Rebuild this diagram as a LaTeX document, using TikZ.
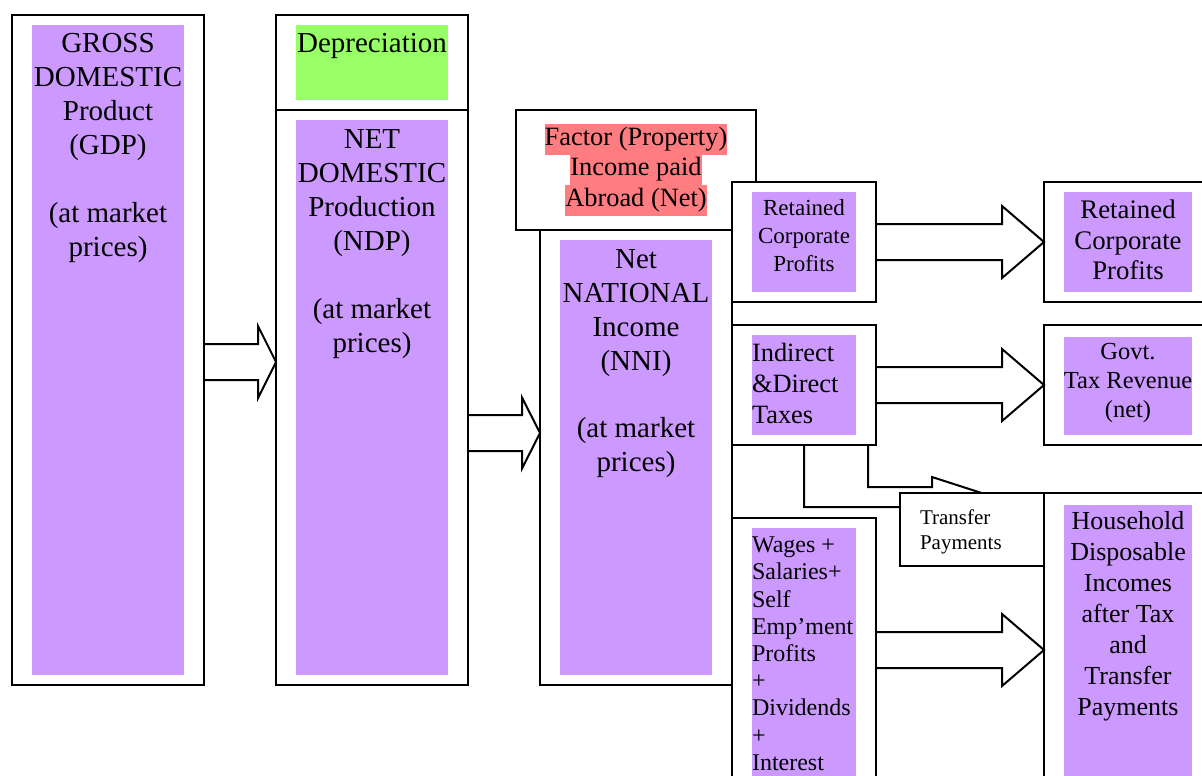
\documentclass[tikz,border=0pt]{standalone}
\usepackage{fontspec}
\setmainfont{Liberation Serif}
\usetikzlibrary{calc}

\definecolor{lilac}{HTML}{CC99FF}
\definecolor{leaf}{HTML}{99FF66}
\definecolor{rose}{HTML}{FF7C80}

\newcommand\hilite[1]{{\setlength\fboxsep{0pt}\colorbox{rose}{\strut #1}}}

\begin{document}
\begin{tikzpicture}[
  x=0.5pt, y=-0.5pt,
  every node/.style = {inner sep=0pt, outer sep=0pt, anchor=north west},
  boxframe/.style = {draw, line width=1pt, fill=white},
  panel/.style = {fill=#1},
  caption/.style = {anchor=north, align=center, inner ysep=#1},
  big/.style = {font=\fontsize{14.5}{17}\selectfont},
  fat/.style args = {#1/#2/#3}{line width=1pt, to path={
      let \p1 = (\tikztostart), \p2 = (\tikztotarget) in
      (\x1,\y1+#1) -- (\x2-#3,\y1+#1) -- (\x2-#3,\y1+#2) -- (\x2,\y1)
      -- (\x2-#3,\y1-#2) -- (\x2-#3,\y1-#1) -- (\x1,\y1-#1)}}
]
  \clip (0,0) rectangle (1202,775);

  % gross domestic product
  \node[boxframe, minimum width=96pt, minimum height=335pt] (gdp) at (12,15) {};
  \node[panel=lilac, minimum width=76pt, minimum height=325pt] (gdp fill) at (32,25) {};
  \node[caption=4pt, big] (gdp text) at (gdp fill.north)
    {GROSS\\DOMESTIC\\Product\\(GDP)\\[17pt](at market\\prices)};

  % depreciation and net domestic product
  \node[boxframe, minimum width=96pt, minimum height=47.5pt] (dep) at (276,15) {};
  \node[panel=leaf, minimum width=76pt, minimum height=37.5pt] (dep fill) at (296,25) {};
  \node[caption=4pt, big] (dep text) at (dep fill.north) {Depreciation};
  \node[boxframe, minimum width=96pt, minimum height=287.5pt] (ndp) at (276,110) {};
  \node[panel=lilac, minimum width=76pt, minimum height=277.5pt] (ndp fill) at (296,120) {};
  \node[caption=5pt, big] (ndp text) at (ndp fill.north)
    {NET\\DOMESTIC\\Production\\(NDP)\\[17pt](at market\\prices)};

  % factor income and net national income
  \node[boxframe, minimum width=120pt, minimum height=60pt] (factor) at (516,110) {};
  \node[caption=7pt, font=\fontsize{13.2}{15.25}\selectfont] (factor text) at (factor.north)
    {\hilite{Factor (Property)}\\\hilite{Income paid}\\\hilite{Abroad (Net)}};
  \node[boxframe, minimum width=96pt, minimum height=227.5pt] (nni) at (540,230) {};
  \node[panel=lilac, minimum width=76pt, minimum height=217.5pt] (nni fill) at (560,240) {};
  \node[caption=5pt, big] (nni text) at (nni fill.north)
    {Net\\NATIONAL\\Income\\(NNI)\\[16.5pt](at market\\prices)};

  % split of the national income
  \node[boxframe, minimum width=72pt, minimum height=60pt] (retain) at (732,182) {};
  \node[panel=lilac, minimum width=52pt, minimum height=50pt] (retain fill) at (752,192) {};
  \node[caption=4pt, font=\fontsize{11.5}{14}\selectfont] (retain text) at (retain fill.north)
    {Retained\\Corporate\\Profits};
  \node[boxframe, minimum width=72pt, minimum height=60pt] (tax) at (732,325) {};
  \node[panel=lilac, minimum width=52pt, minimum height=50pt] (tax fill) at (752,335) {};
  \node[inner ysep=4pt, align=left, font=\fontsize{13.2}{15.5}\selectfont] (tax text) at (tax fill.north west)
    {Indirect\\\&Direct\\Taxes};
  \node[boxframe, minimum width=72pt, minimum height=132pt] (wages) at (732,518) {};
  \node[panel=lilac, minimum width=52pt, minimum height=127pt] (wages fill) at (752,528) {};
  \node[inner ysep=4.5pt, align=left, font=\fontsize{12}{13.6}\selectfont] (wages text) at (wages fill.north west)
    {Wages +\\Salaries+\\Self\\Emp’ment\\Profits\\+\\Dividends\\+\\Interest};

  % where it ends up
  \node[boxframe, minimum width=84pt, minimum height=60pt] (kept) at (1044,182) {};
  \node[panel=lilac, minimum width=64pt, minimum height=50pt] (kept fill) at (1064,192) {};
  \node[caption=4pt, font=\fontsize{13.4}{15.25}\selectfont] (kept text) at (kept fill.north)
    {Retained\\Corporate\\Profits};
  \node[boxframe, minimum width=84pt, minimum height=60pt] (revenue) at (1044,325) {};
  \node[panel=lilac, minimum width=64pt, minimum height=49pt] (revenue fill) at (1064,337) {};
  \node[caption=3pt, font=\fontsize{12.25}{14.5}\selectfont] (revenue text) at (revenue fill.north)
    {Govt.\\Tax Revenue\\(net)};
  \node[boxframe, minimum width=84pt, minimum height=157pt] (household) at (1044,493) {};
  \node[panel=lilac, minimum width=64pt, minimum height=140pt] (household fill) at (1064,505) {};
  \node[caption=3pt, font=\fontsize{13}{15.5}\selectfont] (household text) at (household fill.north)
    {Household\\Disposable\\Incomes\\after Tax\\and\\Transfer\\Payments};

  % block arrows
  \draw[fat=9pt/18pt/9pt] ([yshift=-6pt]gdp.east) to (ndp.west);
  \draw[fat=9pt/17.75pt/9pt] ([yshift=-17.75pt]ndp.east) to (nni.west);
  \draw[fat=9pt/18pt/21pt] (retain.east) to (kept.west);
  \draw[fat=9pt/18pt/21pt] (tax.east) to (revenue.west);
  \draw[fat=9pt/18pt/21pt] (wages.east) to (household.west);

  % bent arrow, its head goes under the transfer box
  \draw[line width=1pt] (tax.south) -- ++(0,62) -- ++(128,0) -- ++(0,10) -- ++(62,-20)
    -- ++(-62,-20) -- ++(0,10) -- ++(-64,0) -- ++(0,-42);
  \node[boxframe, minimum width=72pt, minimum height=36.5pt] (transfer) at (900,493) {};
  \node[inner xsep=10pt, inner ysep=8.5pt, align=left, font=\fontsize{10.5}{12.5}\selectfont] (transfer text)
    at (transfer.north west) {Transfer\\Payments};
\end{tikzpicture}
\end{document}
